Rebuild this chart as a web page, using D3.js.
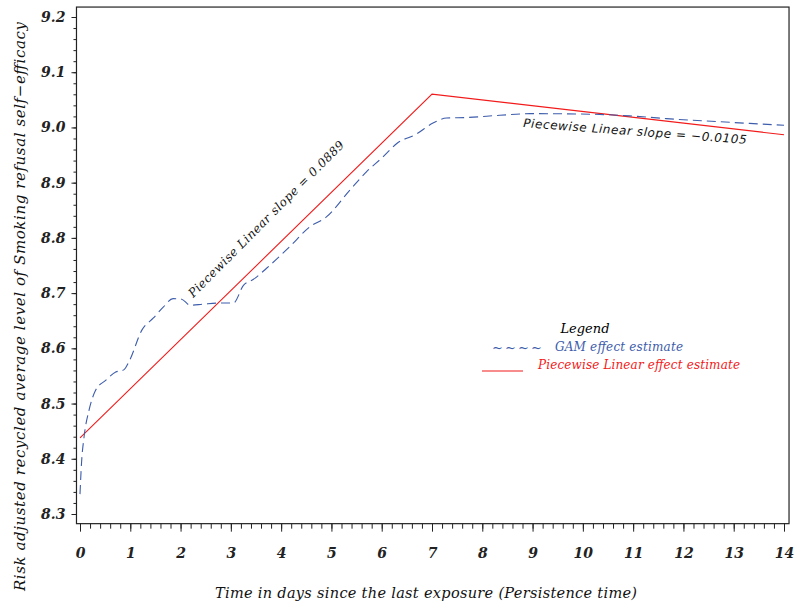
<!DOCTYPE html>
<html><head><meta charset="utf-8">
<script src="https://cdn.jsdelivr.net/npm/d3@7"></script>
<style>
body{margin:0;background:#fff}svg{display:block}
.sf{font-family:"DejaVu Serif","Liberation Serif",serif;}
.ls{font-family:"Liberation Serif","DejaVu Serif",serif;}
.ss{font-family:"DejaVu Sans","Liberation Sans",sans-serif;}
</style>
</head><body>
<svg id="c" width="799" height="610"></svg>
<script>
// ---- data ----
const xTicks = [0,1,2,3,4,5,6,7,8,9,10,11,12,13,14];
const yTicks = [8.3,8.4,8.5,8.6,8.7,8.8,8.9,9.0,9.1,9.2];
const yTickLabels = ["8.3","8.4","8.5","8.6","8.7","8.8","8.9","9.0","9.1","9.2"];
const gamX = [0,0.03,0.08,0.18,0.31,0.51,0.71,0.87,0.99,1.23,1.46,1.66,1.85,2.02,2.19,2.45,2.78,3.05,3.25,3.45,3.71,4.17,4.57,4.90,5.37,5.70,6.03,6.30,6.69,7.02,7.29,7.69,8.35,8.95,10.14,10.93,11.66,12.98,14];
const gamY = [8.336,8.392,8.439,8.488,8.524,8.542,8.557,8.561,8.579,8.633,8.655,8.675,8.690,8.689,8.678,8.680,8.682,8.682,8.714,8.725,8.745,8.784,8.820,8.838,8.887,8.920,8.947,8.971,8.988,9.008,9.017,9.018,9.022,9.025,9.024,9.021,9.016,9.009,9.004];
const pwX = [0,7,14];
const pwY = [8.438,9.0603,8.9868];
const slopeLabels = ["Piecewise  Linear  slope  =   0.0889", "Piecewise  Linear  slope  =   \u22120.0105"];
const legendTitle = "Legend";
const seriesNames = ["GAM effect estimate","Piecewise Linear effect estimate"];
const xTitle = "Time in days since the last exposure (Persistence time)";
const yTitle = "Risk adjusted recycled average level of Smoking refusal self\u2212efficacy";

// ---- chart ----
const svg = d3.select("#c");
const x = d3.scaleLinear().domain([0,14]).range([80,784]);
const y = d3.scaleLinear().domain([8.3,9.2]).range([514,17]);
const blue = "#3d5cab", red = "#f21a1a";

svg.append("rect").attr("width",799).attr("height",610).attr("fill","#fff");

// frame
const fx0 = x(-0.07), fx1 = x(14.1), fy0 = y(9.218), fy1 = y(8.2825);
svg.append("rect").attr("x",fx0).attr("y",fy0).attr("width",fx1-fx0).attr("height",fy1-fy0)
  .attr("fill","none").attr("stroke","#222").attr("stroke-width",1.2);

// y axis
const yMinor = d3.range(0,46).map(i => 8.3 + i*0.02);
const gyMinor = svg.append("g").attr("transform",`translate(${fx0},0)`)
  .call(d3.axisLeft(y).tickValues(yMinor).tickSize(3).tickFormat(""));
const gy = svg.append("g").attr("transform",`translate(${fx0},0)`)
  .call(d3.axisLeft(y).tickValues(yTicks).tickSize(5).tickPadding(6)
    .tickFormat((d,i) => yTickLabels[i]));
// x axis
const xMinor = d3.range(0,71).map(i => i*0.2);
const gxMinor = svg.append("g").attr("transform",`translate(0,${fy1})`)
  .call(d3.axisBottom(x).tickValues(xMinor).tickSize(5).tickFormat(""));
const gx = svg.append("g").attr("transform",`translate(0,${fy1})`)
  .call(d3.axisBottom(x).tickValues(xTicks).tickSize(8).tickPadding(16).tickFormat(d3.format("d")));
[gy,gx,gyMinor,gxMinor].forEach(g => {
  g.attr("font-family",null).attr("font-size",null);
  g.select(".domain").remove();
  g.selectAll(".tick line").attr("stroke","#222");
  g.selectAll("text").attr("class","sf")
    .style("font-size","14px").style("font-weight","bold").style("font-style","italic")
    .attr("fill","#222");
});

// lines
const line = d3.line().x(d => x(d[0])).y(d => y(d[1]));
svg.append("path").datum(pwX.map((v,i)=>[v,pwY[i]]))
  .attr("d",line).attr("fill","none").attr("stroke",red).attr("stroke-width",1.1);
svg.append("path").datum(gamX.map((v,i)=>[v,gamY[i]]))
  .attr("d",line.curve(d3.curveMonotoneX)).attr("fill","none").attr("stroke",blue)
  .attr("stroke-width",1.1).attr("stroke-dasharray","9,5");

// slope annotations
const ang1 = Math.atan2(y(pwY[1])-y(pwY[0]), x(pwX[1])-x(pwX[0]))*180/Math.PI - 0.8;
svg.append("text").attr("class","sf").attr("transform",`translate(${x(2.25)},${y(8.691)}) rotate(${ang1})`)
  .style("font-style","italic").style("font-size","12px")
  .attr("textLength",215).attr("fill","#111").text(slopeLabels[0]);
svg.append("text").attr("class","ss").attr("transform",`translate(${x(8.81)},${y(9.0007)}) rotate(4.3)`)
  .style("font-style","italic").style("font-size","12px")
  .attr("textLength",224).attr("fill","#111").text(slopeLabels[1]);

// legend
svg.append("text").attr("class","sf").attr("x",585).attr("y",333).attr("text-anchor","middle")
  .style("font-style","italic").style("font-size","13px").attr("fill","#000")
  .text(legendTitle);
svg.append("text").attr("class","sf").attr("x",492).attr("y",352).style("font-size","13px")
  .attr("fill",blue).attr("textLength",50).text("~ ~ ~ ~");
svg.append("text").attr("class","sf").attr("x",555).attr("y",351).style("font-style","italic")
  .style("font-size","12px").attr("fill",blue).attr("textLength",128).text(seriesNames[0]);
svg.append("line").attr("x1",482).attr("x2",523).attr("y1",371).attr("y2",371)
  .attr("stroke",red).attr("stroke-width",1.1);
svg.append("text").attr("class","sf").attr("x",538).attr("y",369).style("font-style","italic")
  .style("font-size","12px").attr("fill",red).attr("textLength",202).text(seriesNames[1]);

// axis titles
svg.append("text").attr("class","sf").attr("x",215).attr("y",598).style("font-style","italic")
  .style("font-size","14.5px").attr("fill","#111").attr("textLength",422).text(xTitle);
svg.append("text").attr("class","sf").attr("transform","translate(25,591) rotate(-90)")
  .style("font-style","italic").style("font-size","15px").attr("fill","#111").attr("textLength",569).text(yTitle);
</script>
</body></html>
